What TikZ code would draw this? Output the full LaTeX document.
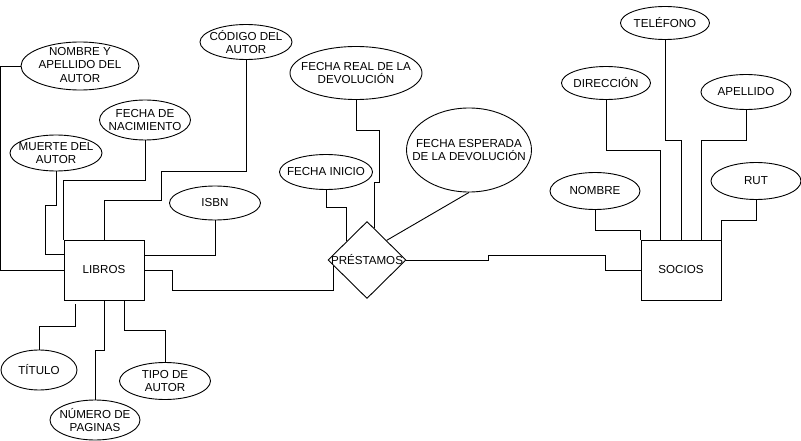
\documentclass[tikz,border=0pt]{standalone}
\usepackage{fontspec}
\setmainfont{Liberation Sans}
\usetikzlibrary{shapes.geometric}
\tikzset{
  attr/.style={ellipse, draw, inner sep=0pt},
  ent/.style={rectangle, draw, minimum width=80, minimum height=60, inner sep=0pt},
  rel/.style={diamond, draw, inner sep=0pt, minimum width=78, minimum height=77},
  lbl/.style={align=center}
}
\begin{document}
\begin{tikzpicture}[x=1pt, y=-1pt, line width=0.9pt, font=\fontsize{11.6}{13.6}\selectfont]
    \useasboundingbox (0,0) rectangle (801,441);
    \node[ent] (libros) at (104,270) {LIBROS};
    \node[ent] (socios) at (681,270) {SOCIOS};
    \node[rel, label={[lbl]center:PRÉSTAMOS}] (pre) at (367,260) {};

    \node[attr, minimum width=118, minimum height=48, label={[lbl, yshift=1]center:NOMBRE Y\\APELLIDO DEL\\AUTOR}] (nya) at (80,66) {};
    \node[attr, minimum width=92, minimum height=36, label={[lbl]center:MUERTE DEL\\AUTOR}] (muerte) at (56,153) {};
    \node[attr, minimum width=91, minimum height=40, label={[lbl]center:FECHA DE\\NACIMIENTO}] (nac) at (145,120) {};
    \node[attr, minimum width=92, minimum height=35, label={[lbl]center:CÓDIGO DEL\\AUTOR}] (cod) at (246,42) {};
    \node[attr, minimum width=91, minimum height=34, label={[lbl]center:ISBN}] (isbn) at (215,203) {};
    \node[attr, minimum width=76, minimum height=40, label={[lbl]center:TÍTULO}] (tit) at (39,370) {};
    \node[attr, minimum width=90, minimum height=40, label={[lbl]center:NÚMERO DE\\PAGINAS}] (num) at (95,420) {};
    \node[attr, minimum width=91, minimum height=37, label={[lbl]center:TIPO DE\\AUTOR}] (tipo) at (165,381) {};

    \node[attr, minimum width=132, minimum height=53, label={[lbl]center:FECHA REAL DE LA\\DEVOLUCIÓN}] (freal) at (356,73) {};
    \node[attr, minimum width=93, minimum height=35, label={[lbl]center:FECHA INICIO}] (fini) at (326,172) {};
    \node[attr, minimum width=125, minimum height=84, label={[lbl]center:FECHA ESPERADA\\DE LA DEVOLUCIÓN}] (fesp) at (469,150) {};

    \node[attr, minimum width=90, minimum height=37, label={[lbl]center:NOMBRE}] (nom) at (595,191) {};
    \node[attr, minimum width=89, minimum height=33, label={[lbl]center:DIRECCIÓN}] (dir) at (606,83) {};
    \node[attr, minimum width=89, minimum height=33, label={[lbl]center:TELÉFONO}] (tel) at (665,23) {};
    \node[attr, minimum width=90, minimum height=35, label={[lbl]center:APELLIDO}] (ape) at (746,92) {};
    \node[attr, minimum width=90, minimum height=37, label={[lbl]center:RUT}] (rut) at (756,181) {};

    \coordinate (tgap) at (75,304);

    \draw (nya.west) -- ++(-20,0) |- (libros.west);
    \draw (muerte.south) |- (45,205) |- (libros.west |- 0,254);
    \draw (nac.south) |- (libros.north west |- 0,180) -- (libros.north west);
    \draw (cod.south) |- (161,171) |- (104,200) -- (libros.north);
    \draw (isbn.south) |- (libros.east |- 0,255);
    \draw (tit.north) |- (75,326) -- (tgap);
    \draw (num.north) |- (104,350) -- (libros.south);
    \draw (tipo.north) |- (124,330) -- (libros.south -| 124,0);

    \draw (libros.east) -| (172,290) -- (pre.190 |- 0,290) -- (pre.190);
    \draw (freal.south) |- (379,130) |- (pre.77 |- 0,182) -- (pre.77);
    \draw (fini.south) |- (pre.137 |- 0,207) -- (pre.137);
    \draw (fesp.south) -- (pre.45);
    \draw (pre.east) -- (488,260) -- (488,255) -| (605,270) -- (socios.west);

    \draw (nom.south) |- (socios.north west |- 0,230) -- (socios.north west);
    \draw (dir.south) |- (660,150) -- (socios.north -| 660,0);
    \draw (tel.south) |- (681,140) -- (socios.north);
    \draw (ape.south) |- (701,140) -- (socios.north -| 701,0);
    \draw (rut.south) |- (socios.north east |- 0,220) -- (socios.north east);
\end{tikzpicture}
\end{document}
